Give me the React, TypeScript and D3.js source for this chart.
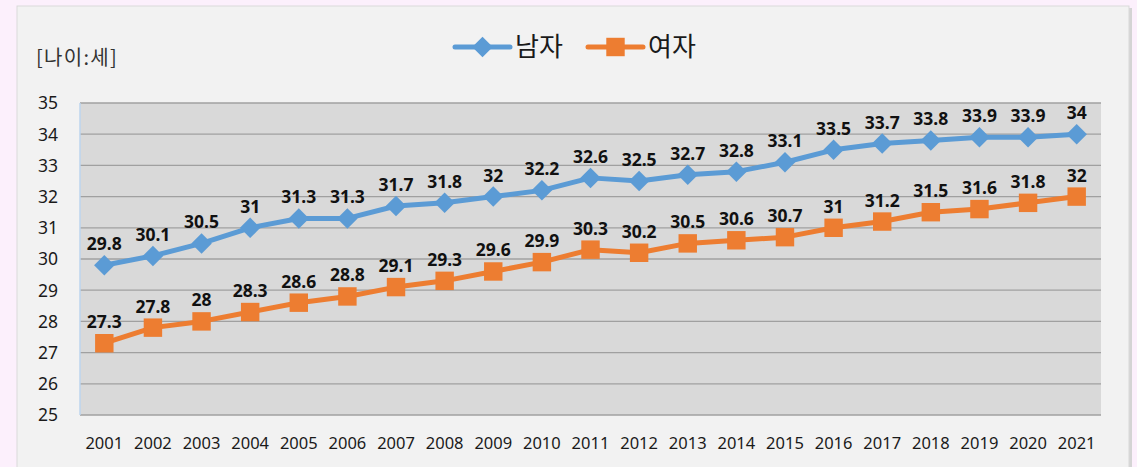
import React, { useEffect, useRef } from "react";
import * as d3 from "d3";

const years = ["2001", "2002", "2003", "2004", "2005", "2006", "2007", "2008", "2009", "2010", "2011",
  "2012", "2013", "2014", "2015", "2016", "2017", "2018", "2019", "2020", "2021"];
const male = [29.8, 30.1, 30.5, 31, 31.3, 31.3, 31.7, 31.8, 32, 32.2, 32.6, 32.5, 32.7, 32.8, 33.1, 33.5, 33.7, 33.8, 33.9, 33.9, 34];
const female = [27.3, 27.8, 28, 28.3, 28.6, 28.8, 29.1, 29.3, 29.6, 29.9, 30.3, 30.2, 30.5, 30.6, 30.7, 31, 31.2, 31.5, 31.6, 31.8, 32];
const yTicks = [25, 26, 27, 28, 29, 30, 31, 32, 33, 34, 35];

const FONT = "'Noto Sans', 'Noto Sans CJK KR', sans-serif";
const KFONT = "'Noto Sans CJK KR', 'Noto Sans', sans-serif";

// square turned 45deg, a bit fatter than d3's diamond
const diamond = { draw(ctx: any, size: number) { const r = Math.sqrt(size / 2); ctx.moveTo(0, -r); ctx.lineTo(r, 0); ctx.lineTo(0, r); ctx.lineTo(-r, 0); ctx.closePath(); } };

export default function App() {
  const ref = useRef<SVGSVGElement>(null);

  useEffect(() => {
    const svg = d3.select(ref.current);
    svg.selectAll("*").remove();

    const W = 1137, H = 467;
    const plot = { left: 80, right: 1101, top: 103, bottom: 415 };

    // page background + panel
    svg.append("rect").attr("width", W).attr("height", H).attr("fill", "#fcf0fc");
    svg.append("rect").attr("x", 19).attr("y", 8).attr("width", 1113).attr("height", 470)
      .attr("fill", "#d4d4d4");
    svg.append("rect").attr("x", 17).attr("y", 6).attr("width", 1112).attr("height", 470)
      .attr("fill", "#f2f2f2").attr("stroke", "#d9d9d9").attr("stroke-width", 1);

    const x = d3.scaleBand().domain(years).range([plot.left, plot.right]);
    const y = d3.scaleLinear().domain([25, 35]).range([plot.bottom, plot.top]);

    svg.append("rect").attr("x", plot.left).attr("y", plot.top)
      .attr("width", plot.right - plot.left).attr("height", plot.bottom - plot.top)
      .attr("fill", "#d9d9d9");

    // grid
    svg.append("g").selectAll("line").data(yTicks).join("line")
      .attr("x1", plot.left).attr("x2", plot.right)
      .attr("y1", d => y(d)).attr("y2", d => y(d))
      .attr("stroke", "#a0a0a0").attr("stroke-width", 1.3);

    // left axis line
    svg.append("line").attr("x1", plot.left).attr("x2", plot.left)
      .attr("y1", plot.top).attr("y2", plot.bottom)
      .attr("stroke", "#bcd4ee").attr("stroke-width", 1.5);

    // y tick labels
    svg.append("g").selectAll("text").data(yTicks).join("text")
      .attr("x", 58).attr("y", d => y(d)).attr("dy", "0.36em")
      .attr("text-anchor", "end").attr("font-family", FONT).attr("font-size", 17.5)
      .attr("fill", "#1a1a1a").text(d => d);

    // x tick labels
    svg.append("g").selectAll("text").data(years).join("text")
      .attr("x", d => x(d)! + x.bandwidth() / 2).attr("y", 449)
      .attr("text-anchor", "middle").attr("font-family", FONT).attr("font-size", 16.5)
      .attr("fill", "#1a1a1a").text(d => d);

    // unit label
    svg.append("text").attr("x", 36).attr("y", 65).attr("font-family", KFONT)
      .attr("font-size", 20).attr("letter-spacing", 1.3).attr("fill", "#333").text("[나이:세]");

    const cx = (i: number) => x(years[i])! + x.bandwidth() / 2;
    const line = d3.line<number>().x((d, i) => cx(i)).y(d => y(d));

    const series = [
      { name: "남자", data: male, color: "#5b9bd5", symbol: diamond, size: 210 },
      { name: "여자", data: female, color: "#ed7d31", symbol: d3.symbolSquare, size: 340 },
    ];

    series.forEach(s => {
      const g = svg.append("g");
      g.append("path").datum(s.data).attr("d", line).attr("fill", "none")
        .attr("stroke", s.color).attr("stroke-width", 5).attr("stroke-linejoin", "round");
      g.selectAll("path.pt").data(s.data).join("path").attr("class", "pt")
        .attr("d", d3.symbol().type(s.symbol as any).size(s.size)())
        .attr("transform", (d, i) => `translate(${cx(i)},${y(d)})`)
        .attr("fill", s.color);
      g.selectAll("text").data(s.data).join("text")
        .attr("x", (d, i) => cx(i)).attr("y", d => y(d) - 15)
        .attr("text-anchor", "middle").attr("font-family", FONT).attr("font-weight", "bold")
        .attr("font-size", 17.5).attr("fill", "#111").text(d => d);
    });

    // legend
    const legend = svg.append("g");
    const lx = [455, 588];
    series.forEach((s, i) => {
      const gx = lx[i];
      legend.append("line").attr("x1", gx).attr("x2", gx + 55).attr("y1", 47).attr("y2", 47)
        .attr("stroke", s.color).attr("stroke-width", 5).attr("stroke-linecap", "round");
      legend.append("path").attr("d", d3.symbol().type(s.symbol as any).size(s.size)())
        .attr("transform", `translate(${gx + 27.5},47)`).attr("fill", s.color);
      legend.append("text").attr("x", gx + 60).attr("y", 47).attr("dy", "0.36em")
        .attr("font-family", KFONT).attr("font-size", 26).attr("fill", "#1a1a1a").text(s.name);
    });
  }, []);

  return <svg ref={ref} width={1137} height={467} style={{ position: "absolute", left: 0, top: 0 }} />;
}
